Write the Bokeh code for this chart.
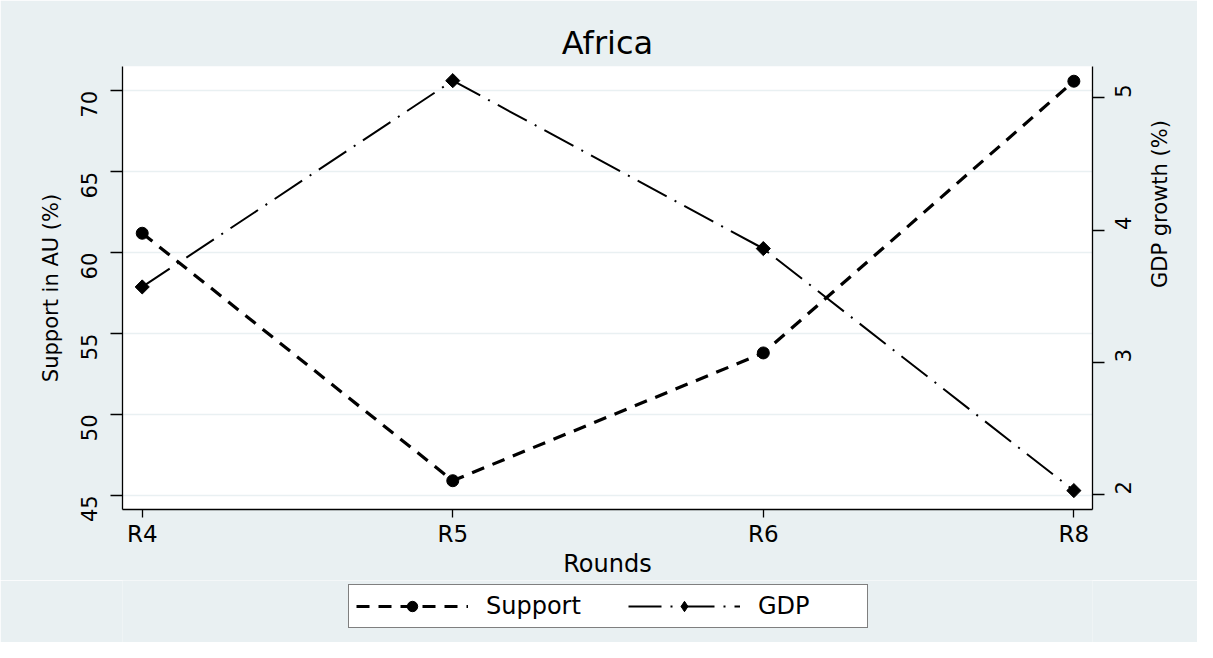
import math
from bokeh.plotting import figure
from bokeh.layouts import column
from bokeh.models import LinearAxis, Range1d, FixedTicker, Legend, LegendItem, ColumnDataSource
from bokeh.embed import file_html
from bokeh.resources import INLINE

# ---- data ----
rounds = ["R4", "R5", "R6", "R8"]
support = [61.2, 45.9, 53.8, 70.6]
gdp = [3.57, 5.13, 3.86, 2.03]
left_ticks = [45, 50, 55, 60, 65, 70]
right_ticks = [2, 3, 4, 5]
series_names = ["Support", "GDP"]

BG = "#E9F0F2"
FONT = "DejaVu Sans"

xpos = list(range(len(rounds)))
src = ColumnDataSource(dict(x=xpos, support=support, gdp=gdp))

p = figure(width=1197, height=580, output_backend="svg", toolbar_location=None,
           x_range=Range1d(-0.0635, 3.06), y_range=Range1d(44.12, 71.51),
           min_border_left=122, min_border_right=105, min_border_top=66, min_border_bottom=68,
           background_fill_color="white", border_fill_color=BG, outline_line_color=None,
           title="Africa")
p.extra_y_ranges = {"gdp": Range1d(1.887, 5.237)}

p.title.text_font = FONT
p.title.text_font_size = "32px"
p.title.text_font_style = "normal"
p.title.align = "center"
p.title.text_color = "black"

# grid
p.xgrid.visible = False
p.ygrid.ticker = FixedTicker(ticks=left_ticks)
p.ygrid.grid_line_color = BG
p.ygrid.grid_line_width = 1.5

# x axis
xa = p.xaxis[0]
xa.ticker = FixedTicker(ticks=xpos)
xa.major_label_overrides = {i: r for i, r in zip(xpos, rounds)}
xa.axis_label = "Rounds"

# left axis
ya = p.yaxis[0]
ya.ticker = FixedTicker(ticks=left_ticks)
ya.axis_label = "Support in AU (%)"
ya.major_label_orientation = math.pi / 2

# right axis
ra = LinearAxis(y_range_name="gdp", axis_label="GDP growth (%)", ticker=FixedTicker(ticks=right_ticks))
ra.major_label_orientation = math.pi / 2
ra.axis_label_orientation = math.pi / 2
p.add_layout(ra, "right")

for ax in [xa, ya, ra]:
    ax.axis_line_color = "black"
    ax.axis_line_width = 1.3
    ax.major_tick_line_color = "black"
    ax.major_tick_line_width = 1.3
    ax.major_tick_in = 0
    ax.minor_tick_line_color = None
    ax.major_label_text_font = FONT
    ax.major_label_text_color = "black"
    ax.axis_label_text_font = FONT
    ax.axis_label_text_font_style = "normal"
    ax.axis_label_text_color = "black"

xa.major_tick_out = 8
xa.major_label_text_font_size = "23px"
xa.axis_label_text_font_size = "24px"
xa.major_label_standoff = 3
xa.axis_label_standoff = 0

for ax in [ya, ra]:
    ax.major_tick_out = 12
    ax.major_label_text_font_size = "21px"
    ax.axis_label_text_font_size = "21px"

ya.major_label_standoff = 21
ya.axis_label_standoff = 8
ra.major_label_standoff = 19
ra.axis_label_standoff = 17

# series
SUP_LINE = dict(line_color="black", line_width=3.2, line_dash="13 9")
GDP_LINE = dict(line_color="black", line_width=2, line_dash="33 9 2 9")
p.line("x", "support", source=src, **SUP_LINE)
p.scatter("x", "support", source=src, marker="circle", size=12, fill_color="black", line_color="black")
p.line("x", "gdp", source=src, y_range_name="gdp", **GDP_LINE)
p.scatter("x", "gdp", source=src, y_range_name="gdp", marker="square", angle=math.pi / 4,
          size=10, fill_color="black", line_color="black")

# ---- legend strip (separate figure so the legend sits below the axis title) ----
lg = figure(width=1197, height=62, output_backend="svg", toolbar_location=None,
            x_range=Range1d(0, 1), y_range=Range1d(0, 1), x_axis_type=None, y_axis_type=None,
            min_border=0, background_fill_color=BG, border_fill_color=BG, outline_line_color=None)
lg.xgrid.visible = False
lg.ygrid.visible = False
# key-only source: points lie outside the strip's visible range, only the legend keys show
key_src = ColumnDataSource(dict(x=[-5, -4], y=[-5, -4]))
kl1 = lg.line("x", "y", source=key_src, **SUP_LINE)
ks1 = lg.scatter("x", "y", source=key_src, marker="circle", size=12, fill_color="black", line_color="black")
kl2 = lg.line("x", "y", source=key_src, **GDP_LINE)
ks2 = lg.scatter("x", "y", source=key_src, marker="diamond", size=19, fill_color="black", line_color="black")

legend = Legend(items=[LegendItem(label=series_names[0], renderers=[kl1, ks1]),
                       LegendItem(label=series_names[1], renderers=[kl2, ks2])],
                orientation="horizontal", location=(226, 14),
                glyph_width=112, glyph_height=26, label_standoff=18, spacing=40,
                label_width=102, padding=7, margin=0,
                label_text_font=FONT, label_text_font_size="24px", label_text_color="black",
                border_line_color="black", border_line_width=1.2,
                background_fill_color="white", background_fill_alpha=1.0)
lg.add_layout(legend, "center")

page = column(p, lg, spacing=0)
open("out.html", "w").write(file_html(page, INLINE))
